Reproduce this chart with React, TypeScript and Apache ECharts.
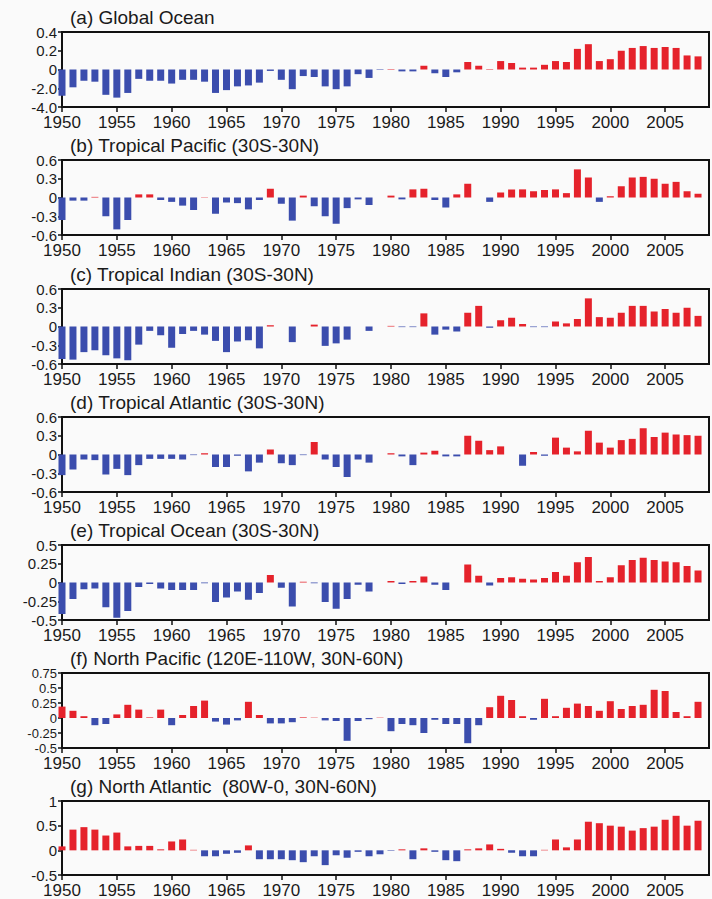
import React, { useEffect, useRef } from "react";
import * as echarts from "echarts";

const years = [
  1950, 1951, 1952, 1953, 1954, 1955, 1956, 1957, 1958, 1959,
  1960, 1961, 1962, 1963, 1964, 1965, 1966, 1967, 1968, 1969,
  1970, 1971, 1972, 1973, 1974, 1975, 1976, 1977, 1978, 1979,
  1980, 1981, 1982, 1983, 1984, 1985, 1986, 1987, 1988, 1989,
  1990, 1991, 1992, 1993, 1994, 1995, 1996, 1997, 1998, 1999,
  2000, 2001, 2002, 2003, 2004, 2005, 2006, 2007, 2008,
];

const globalOcean = [
  -0.28, -0.19, -0.12, -0.13, -0.27, -0.3, -0.25, -0.1, -0.12, -0.12,
  -0.15, -0.11, -0.11, -0.13, -0.25, -0.22, -0.18, -0.17, -0.14, -0.015,
  -0.11, -0.21, -0.07, -0.08, -0.18, -0.21, -0.18, -0.05, -0.09, -0.005,
  0.005, -0.02, -0.02, 0.04, -0.04, -0.08, -0.03, 0.08, 0.04, 0.005,
  0.09, 0.07, 0.02, 0.02, 0.05, 0.09, 0.08, 0.22, 0.27, 0.09,
  0.11, 0.2, 0.23, 0.25, 0.23, 0.24, 0.23, 0.15, 0.14,
];

const tropicalPacific = [
  -0.36, -0.05, -0.05, 0.01, -0.3, -0.51, -0.36, 0.05, 0.05, -0.04,
  -0.07, -0.13, -0.2, 0.005, -0.26, -0.08, -0.09, -0.19, -0.04, 0.14,
  -0.1, -0.37, 0.03, -0.14, -0.3, -0.42, -0.17, -0.03, -0.12, 0,
  0.03, -0.03, 0.13, 0.14, -0.04, -0.16, 0.05, 0.22, 0, -0.07,
  0.08, 0.13, 0.13, 0.1, 0.12, 0.13, 0.07, 0.45, 0.32, -0.07,
  0.02, 0.18, 0.32, 0.33, 0.3, 0.22, 0.25, 0.1, 0.06,
];

const tropicalIndian = [
  -0.52, -0.53, -0.41, -0.38, -0.46, -0.51, -0.54, -0.29, -0.07, -0.14,
  -0.34, -0.12, -0.07, -0.13, -0.23, -0.41, -0.24, -0.22, -0.35, 0.02,
  0, -0.25, 0, 0.03, -0.31, -0.27, -0.21, 0, -0.07, 0,
  0.01, -0.01, -0.01, 0.21, -0.13, -0.05, -0.08, 0.22, 0.33, -0.02,
  0.1, 0.14, 0.04, -0.01, -0.01, 0.08, 0.05, 0.12, 0.45, 0.15,
  0.14, 0.22, 0.33, 0.33, 0.24, 0.28, 0.22, 0.3, 0.17,
];

const tropicalAtlantic = [
  -0.33, -0.24, -0.08, -0.09, -0.32, -0.23, -0.33, -0.17, -0.07, -0.07,
  -0.07, -0.08, -0.01, 0.02, -0.2, -0.2, -0.02, -0.27, -0.13, 0.08,
  -0.14, -0.17, -0.01, 0.2, -0.08, -0.2, -0.36, -0.08, -0.13, 0,
  0.02, -0.03, -0.17, 0.03, 0.06, -0.03, -0.03, 0.3, 0.22, 0.07,
  0.13, 0, -0.18, 0.04, -0.02, 0.27, 0.11, 0.05, 0.38, 0.19,
  0.11, 0.23, 0.25, 0.42, 0.28, 0.35, 0.32, 0.31, 0.3,
];

const tropicalOcean = [
  -0.42, -0.22, -0.09, -0.08, -0.33, -0.47, -0.38, -0.06, -0.02, -0.08,
  -0.1, -0.1, -0.1, -0.01, -0.26, -0.2, -0.12, -0.23, -0.14, 0.1,
  -0.07, -0.32, 0.01, -0.01, -0.26, -0.35, -0.22, -0.03, -0.12, 0,
  0.02, -0.02, 0.02, 0.08, -0.03, -0.1, 0, 0.24, 0.09, -0.04,
  0.06, 0.07, 0.05, 0.04, 0.06, 0.14, 0.09, 0.27, 0.34, 0.02,
  0.07, 0.23, 0.3, 0.33, 0.3, 0.28, 0.27, 0.22, 0.16,
];

const northPacific = [
  0.19, 0.12, 0.03, -0.12, -0.1, 0.06, 0.22, 0.14, 0.01, 0.14,
  -0.12, 0.05, 0.2, 0.29, -0.06, -0.11, -0.04, 0.27, 0.05, -0.09,
  -0.09, -0.07, 0.01, 0.005, -0.04, -0.05, -0.38, -0.05, -0.02, 0.005,
  -0.22, -0.1, -0.12, -0.25, -0.03, -0.1, -0.1, -0.42, -0.12, 0.18,
  0.37, 0.3, 0.03, -0.03, 0.32, 0.03, 0.17, 0.24, 0.2, 0.12,
  0.28, 0.15, 0.2, 0.22, 0.47, 0.45, 0.1, 0.03, 0.27,
];

const northAtlantic = [
  0.08, 0.42, 0.47, 0.42, 0.3, 0.36, 0.08, 0.09, 0.09, 0.02,
  0.18, 0.22, 0.01, -0.12, -0.12, -0.07, -0.05, 0.1, -0.18, -0.18,
  -0.18, -0.2, -0.24, -0.12, -0.3, -0.1, -0.15, -0.03, -0.12, -0.08,
  -0.01, 0.02, -0.18, 0.04, -0.03, -0.2, -0.22, 0.02, 0.04, 0.12,
  0.03, -0.05, -0.12, -0.12, 0.01, 0.22, 0.06, 0.22, 0.58, 0.55,
  0.5, 0.48, 0.4, 0.45, 0.48, 0.62, 0.7, 0.5, 0.6,
];

const panelTitles = [
  "(a) Global Ocean",
  "(b) Tropical Pacific (30S-30N)",
  "(c) Tropical Indian (30S-30N)",
  "(d) Tropical Atlantic (30S-30N)",
  "(e) Tropical Ocean (30S-30N)",
  "(f) North Pacific (120E-110W, 30N-60N)",
  "(g) North Atlantic  (80W-0, 30N-60N)",
];

const panelSeries = [
  globalOcean,
  tropicalPacific,
  tropicalIndian,
  tropicalAtlantic,
  tropicalOcean,
  northPacific,
  northAtlantic,
];

// y-axis [min, max, interval] per panel
const yRanges = [
  [-0.4, 0.4, 0.2],
  [-0.6, 0.6, 0.3],
  [-0.6, 0.6, 0.3],
  [-0.6, 0.6, 0.3],
  [-0.5, 0.5, 0.25],
  [-0.5, 0.75, 0.25],
  [-0.5, 1, 0.5],
];

// tick labels of panel (a) as printed in the figure
const globalTickLabels: Record<string, string> = {
  "0.4": "0.4",
  "0.2": "0.2",
  "0": "0",
  "-0.2": "-2.0",
  "-0.4": "-4.0",
};

const RED = "#e5222b";
const BLUE = "#3b4dad";
const FONT = "'Liberation Sans', Arial, sans-serif";

export default function App() {
  const ref = useRef<HTMLDivElement>(null);

  useEffect(() => {
    if (!ref.current) return;
    const chart = echarts.init(ref.current, undefined, { renderer: "svg" });

    const tops = [32, 160, 289, 417, 545, 673, 801];
    const h = 75;
    const left = 62;
    const width = 647;

    const fmt = (v: number) => String(parseFloat(v.toFixed(2)));

    const option: any = {
      animation: false,
      backgroundColor: "#fafafa",
      title: panelTitles.map((t, i) => ({
        text: t,
        left: 70,
        top: tops[i] - 24,
        padding: 0,
        textStyle: {
          fontSize: 19,
          fontWeight: "normal",
          color: "#1a1a1a",
          fontFamily: FONT,
          lineHeight: 19,
        },
      })),
      grid: tops.map((t) => ({
        left,
        top: t,
        width,
        height: h,
        show: true,
        borderColor: "#111",
        borderWidth: 2,
        backgroundColor: "transparent",
      })),
      xAxis: tops.map((_, i) => ({
        type: "value",
        gridIndex: i,
        min: 1950,
        max: 2009,
        interval: 5,
        splitLine: { show: false },
        axisLine: { show: true, onZero: false, lineStyle: { color: "#111", width: 2 } },
        axisTick: { show: true, inside: false, length: 5, lineStyle: { color: "#111", width: 1.5 } },
        axisLabel: {
          show: true,
          showMaxLabel: false,
          margin: 7,
          fontSize: 17,
          lineHeight: 17,
          color: "#1a1a1a",
          fontFamily: FONT,
          formatter: (v: number) => (v % 5 === 0 ? String(v) : ""),
        },
      })),
      yAxis: yRanges.map((r, i) => ({
        type: "value",
        gridIndex: i,
        min: r[0],
        max: r[1],
        interval: r[2],
        splitLine: { show: false },
        axisLine: { show: true, onZero: false, lineStyle: { color: "#111", width: 2 } },
        axisTick: { show: true, inside: false, length: 4, lineStyle: { color: "#111", width: 1.5 } },
        axisLabel: {
          show: true,
          showMinLabel: true,
          showMaxLabel: true,
          hideOverlap: false,
          margin: 5,
          fontSize: i === 5 ? 13 : 15,
          lineHeight: 12,
          color: "#1a1a1a",
          fontFamily: FONT,
          formatter: (v: number) => {
            const s = fmt(v);
            return i === 0 ? globalTickLabels[s] ?? s : s;
          },
        },
      })),
      series: panelSeries.map((vals, i) => ({
        type: "bar",
        xAxisIndex: i,
        yAxisIndex: i,
        barWidth: 7,
        clip: true,
        data: vals.map((v, k) => ({
          value: [years[k], v],
          itemStyle: { color: v >= 0 ? RED : BLUE },
        })),
      })),
    };

    chart.setOption(option);
    return () => chart.dispose();
  }, []);

  return (
    <div
      ref={ref}
      style={{ position: "absolute", left: 0, top: 0, width: 712, height: 899 }}
    />
  );
}
